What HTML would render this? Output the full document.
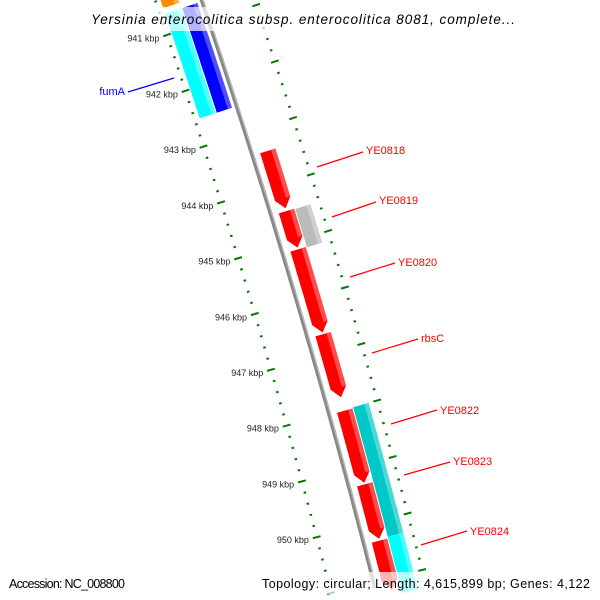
<!DOCTYPE html>
<html><head><meta charset="utf-8"><style>
html,body{margin:0;padding:0;background:#fff;overflow:hidden;width:600px;height:600px;}
svg{display:block;overflow:hidden;font-family:"Liberation Sans","DejaVu Sans",sans-serif;}
</style></head><body>
<svg id="map" width="600" height="600" viewBox="0 0 600 600" xmlns="http://www.w3.org/2000/svg">
<g id="ticks"></g>
<g id="backbone"></g>
<g id="features"></g>
<g id="labels"></g>
<rect x="84" y="7" width="436" height="24" fill="#fff" fill-opacity="0.7"/>
<text x="91" y="24" textLength="424" lengthAdjust="spacing" font-size="13.5" font-style="italic" fill="#000">Yersinia enterocolitica subsp. enterocolitica 8081, complete...</text>
<rect x="4" y="572" width="126" height="22" fill="#fff" fill-opacity="0.7"/>
<rect x="258" y="572" width="338" height="22" fill="#fff" fill-opacity="0.7"/>
<text x="9" y="588" textLength="116" lengthAdjust="spacing" font-size="12.5" fill="#000">Accession: NC_008800</text>
<text x="262" y="588" textLength="328" lengthAdjust="spacing" font-size="12.5" fill="#000">Topology: circular; Length: 4,615,899 bp; Genes: 4,122</text>
</svg>
<script>
// Feature data (kbp)
const featNames = ['orange-gene','fumA-cog','fumA','YE0818','YE0819','YE0819-cog','YE0820','rbsC','YE0822','YE0822-cog','YE0823','YE0824','YE0824-cog'];
const featStart = [940.2, 940.65, 940.65, 943.40, 944.47, 944.48, 945.15, 946.66, 948.02, 948.00, 949.33, 950.33, 950.30];
const featEnd   = [940.55, 942.52, 942.52, 944.42, 945.12, 945.16, 946.63, 947.78, 949.30, 950.30, 950.30, 951.2, 951.3];
const featTrack = [0, 0, 1, 2, 2, 3, 2, 2, 2, 3, 2, 2, 3];
const featColor = ['#ff8c00','#00ffff','#0000ff','#ff0000','#ff0000','#bbbbbb','#ff0000','#ff0000','#ff0000','#00c8c8','#ff0000','#ff0000','#00ffff'];
const featArrow = [0,0,0,1,1,0,1,1,1,0,1,1,0];
const tickLabels = [941,942,943,944,945,946,947,948,949,950];
const labelText = ['fumA','YE0818','YE0819','YE0820','rbsC','YE0822','YE0823','YE0824'];
const labelColor = ['#0000ff','#ff0000','#ff0000','#ff0000','#ff0000','#ff0000','#ff0000','#ff0000'];

const NS='http://www.w3.org/2000/svg';
const trackR = [[5,22],[23,39],[52,68],[69,85]];
function base(k){const d=k-941;return [167+18.7*d-0.23*d*d, 35+55.8*d];}
function nrm(k){const d=k-941;const tx=18.7-0.46*d,ty=55.8;const L=Math.hypot(tx,ty);return [ty/L,-tx/L];}
function P(k,r){const b=base(k),n=nrm(k);return [b[0]+r*n[0],b[1]+r*n[1]];}
function mk(tag,attrs,parent){const e=document.createElementNS(NS,tag);for(const a in attrs)e.setAttribute(a,attrs[a]);parent.appendChild(e);return e;}
function band(k1,k2,r1,r2){const pts=[];const n=20;for(let i=0;i<=n;i++)pts.push(P(k1+(k2-k1)*i/n,r2));for(let i=n;i>=0;i--)pts.push(P(k1+(k2-k1)*i/n,r1));return pts;}
function ptsStr(p){return p.map(q=>q[0].toFixed(1)+','+q[1].toFixed(1)).join(' ');}

// ticks
const tg=document.getElementById('ticks');
for(let i=Math.round(940*5);i<=951*5;i++){
  const k=i/5;const major=(i%5===0);
  for(const R of [0,94]){
    const a=P(k,R-(major?4:1.3)),b=P(k,R+(major?4:1.3));
    const l=mk('line',{x1:a[0],y1:a[1],x2:b[0],y2:b[1],stroke:'#007a00','stroke-width':2},tg);
    
    
  }
}
tickLabels.forEach(k=>{
  const p=P(k,-8);
  const t=mk('text',{x:p[0],y:p[1]+4,'text-anchor':'end','font-size':'9',fill:'#222'},tg);
  t.textContent=k+' kbp';
  
  
});

// backbone
const bb=document.getElementById('backbone');
const bpts=[];for(let k=940;k<=951.2;k+=0.1)bpts.push(P(k,44));
const bl=mk('polyline',{points:ptsStr(bpts),fill:'none',stroke:'#888','stroke-width':4},bb);


const bl2=mk('polyline',{points:ptsStr(bpts.map((q,i)=>P(940+i*0.1,45.3))),fill:'none',stroke:'#bbb','stroke-width':1.2},bb);



// features
const fg=document.getElementById('features');
featNames.forEach((nm,i)=>{
  const [r1,r2]=trackR[featTrack[i]];
  const k1=featStart[i],k2=featEnd[i];
  let pts;
  if(featArrow[i]){
    const h=0.17, kb=k2-h;
    pts=band(k1,kb,r1,r2);
    const n=pts.length/2;
    const outer=pts.slice(0,n),inner=pts.slice(n);
    pts=outer.concat([P(k2,(r1+r2)/2)]).concat(inner);
  } else pts=band(k1,k2,r1,r2);
  const g=mk('g',{},fg);
  
  
  mk('polygon',{points:ptsStr(pts),fill:featColor[i]},g);
  const w=(r2-r1);
  const ke=featArrow[i]?k2-0.17:k2;
  const hp=band(k1,ke,r2-w*0.28,r2);
  mk('polygon',{points:ptsStr(hp),fill:'#fff','fill-opacity':0.3},g);
});

// labels
const lg=document.getElementById('labels');
const lines=[[174,78,128,92,125,95,'end'],[317,167,363,152,366,154,'start'],[332,217,376,202,379,204,'start'],[350,277,395,263,398,266,'start'],[372,353,418,339,421,342,'start'],[391,424,437,410,440,414,'start'],[404,475,450,462,453,465,'start'],[421,545,467,531,470,535,'start']];
labelText.forEach((t,i)=>{
  const L=lines[i];
  const g=mk('g',{},lg);
  
  
  mk('line',{x1:L[0],y1:L[1],x2:L[2],y2:L[3],stroke:labelColor[i],'stroke-width':1.2},g);
  const tx=mk('text',{x:L[4],y:L[5],'text-anchor':L[6],'font-size':'11',fill:labelColor[i]},g);
  tx.textContent=t;
});
</script>
</body></html>
